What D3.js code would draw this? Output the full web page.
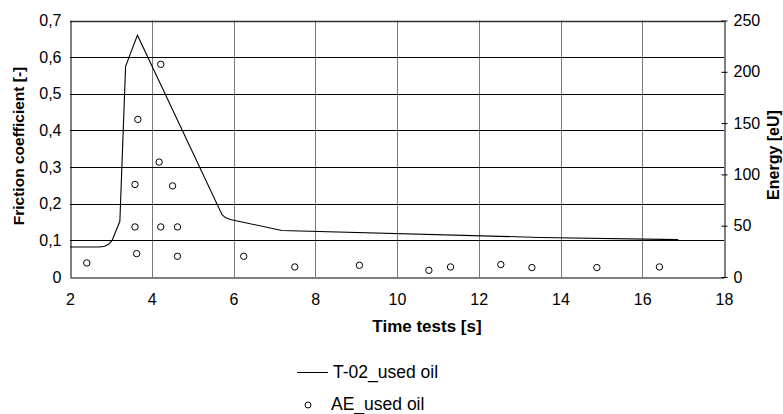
<!DOCTYPE html>
<html>
<head>
<meta charset="utf-8">
<script src="https://cdn.jsdelivr.net/npm/d3@7"></script>
<style>
  body { margin: 0; background: #fff; }
  svg { font-family: "Liberation Sans", Arial, sans-serif; }
</style>
</head>
<body>
<div id="chart"></div>
<script>
// T-02_used oil (friction coefficient, left axis)
const lineTime     = [2.0, 2.73, 2.85, 2.95, 3.03, 3.12, 3.22, 3.36, 3.65, 5.72, 5.80, 5.92, 7.18, 13.5, 16.88];
const lineFriction = [0.082, 0.082, 0.084, 0.090, 0.100, 0.125, 0.152, 0.575, 0.66, 0.170, 0.162, 0.157, 0.127, 0.108, 0.102];

// AE_used oil (energy, right axis)
const aeTime   = [2.41, 3.59, 3.59, 3.63, 3.66, 4.22, 4.18, 4.22, 4.51, 4.63, 4.63, 6.25, 7.5, 9.08, 10.78, 11.31, 12.54, 13.30, 14.89, 16.42];
const aeEnergy = [13.7, 90.2, 48.8, 22.8, 153.6, 207.3, 112, 48.8, 88.8, 48.8, 20.2, 20.2, 9.8, 11.4, 6.5, 9.8, 12.1, 9.2, 9.2, 9.8];

const xTicks        = [2, 4, 6, 8, 10, 12, 14, 16, 18];
const frictionTicks = [0, 0.1, 0.2, 0.3, 0.4, 0.5, 0.6, 0.7];
const energyTicks   = [0, 50, 100, 150, 200, 250];

const width = 783, height = 414;
const margin = {left: 70, right: 59, top: 20.5, bottom: 137};

const svg = d3.select("#chart").append("svg")
    .attr("width", width)
    .attr("height", height);

const x = d3.scaleLinear().domain([2, 18]).range([margin.left, width - margin.right]);
const yL = d3.scaleLinear().domain([0, 0.7]).range([height - margin.bottom, margin.top]);
const yR = d3.scaleLinear().domain([0, 250]).range([height - margin.bottom, margin.top]);

const fmtComma = d => d === 0 ? "0" : d3.format(".1f")(d).replace(".", ",");

// vertical grid lines
svg.append("g")
    .selectAll("line")
    .data(xTicks.slice(1, -1))
    .join("line")
    .attr("x1", d => Math.round(x(d)) + 0.5)
    .attr("x2", d => Math.round(x(d)) + 0.5)
    .attr("y1", yL(0.7))
    .attr("y2", yL(0))
    .attr("stroke", "#7a7a7a");

// horizontal grid lines
svg.append("g")
    .selectAll("line")
    .data(frictionTicks.slice(1))
    .join("line")
    .attr("x1", x(2))
    .attr("x2", x(18))
    .attr("y1", d => Math.round(yL(d)) + 0.5)
    .attr("y2", d => Math.round(yL(d)) + 0.5)
    .attr("stroke", d => d === 0.7 ? "#333" : "#000")
    .attr("stroke-width", d => d === 0.7 ? 1.5 : 1);

// bottom axis
const xAxis = svg.append("g")
    .attr("transform", `translate(0,${Math.round(yL(0)) + 0.5})`)
    .call(d3.axisBottom(x).tickValues(xTicks).tickSize(0).tickPadding(16));
xAxis.select(".domain").attr("stroke", "#000");

// left axis
const leftAxis = svg.append("g")
    .attr("transform", `translate(${Math.round(x(2)) + 0.5},0)`)
    .call(d3.axisLeft(yL).tickValues(frictionTicks).tickFormat(fmtComma).tickSize(0).tickPadding(9));
leftAxis.select(".domain").attr("stroke", "#000");

// right axis
const rightAxis = svg.append("g")
    .attr("transform", `translate(${Math.round(x(18)) + 0.5},0)`)
    .call(d3.axisRight(yR).tickValues(energyTicks).tickSizeOuter(0).tickSizeInner(3).tickPadding(6));
rightAxis.select(".domain").attr("stroke", "#000");
rightAxis.selectAll(".tick line").attr("x1", -3).attr("stroke", "#000");

svg.selectAll(".tick text")
    .attr("font-size", 16)
    .attr("font-family", "'Liberation Sans', Arial, sans-serif")
    .attr("fill", "#000");

// friction line
const line = d3.line()
    .x(d => x(d[0]))
    .y(d => yL(d[1]));

svg.append("path")
    .datum(d3.zip(lineTime, lineFriction))
    .attr("d", line)
    .attr("fill", "none")
    .attr("stroke", "#000")
    .attr("stroke-width", 1.1);

// AE points
svg.append("g")
    .selectAll("circle")
    .data(d3.zip(aeTime, aeEnergy))
    .join("circle")
    .attr("cx", d => x(d[0]))
    .attr("cy", d => yR(d[1]))
    .attr("r", 3.2)
    .attr("fill", "#fff")
    .attr("stroke", "#000")
    .attr("stroke-width", 1);

// axis titles
svg.append("text")
    .attr("x", 427)
    .attr("y", 332)
    .attr("text-anchor", "middle")
    .attr("font-size", 17)
    .attr("font-weight", "bold")
    .text("Time tests [s]");

svg.append("text")
    .attr("transform", `translate(24,${146}) rotate(-90)`)
    .attr("text-anchor", "middle")
    .attr("font-size", 15.5)
    .attr("font-weight", "bold")
    .text("Friction coefficient [-]");

svg.append("text")
    .attr("transform", `translate(779,${155}) rotate(-90)`)
    .attr("text-anchor", "middle")
    .attr("font-size", 16)
    .attr("font-weight", "bold")
    .text("Energy [eU]");

// legend
const legend = svg.append("g");
legend.append("line")
    .attr("x1", 297).attr("x2", 328)
    .attr("y1", 372.5).attr("y2", 372.5)
    .attr("stroke", "#000");
legend.append("text")
    .attr("x", 333).attr("y", 378)
    .attr("font-size", 17.5)
    .text("T-02_used oil");
legend.append("circle")
    .attr("cx", 308).attr("cy", 405)
    .attr("r", 3)
    .attr("fill", "#fff")
    .attr("stroke", "#000");
legend.append("text")
    .attr("x", 331).attr("y", 410)
    .attr("font-size", 17.5)
    .text("AE_used oil");
</script>
</body>
</html>
